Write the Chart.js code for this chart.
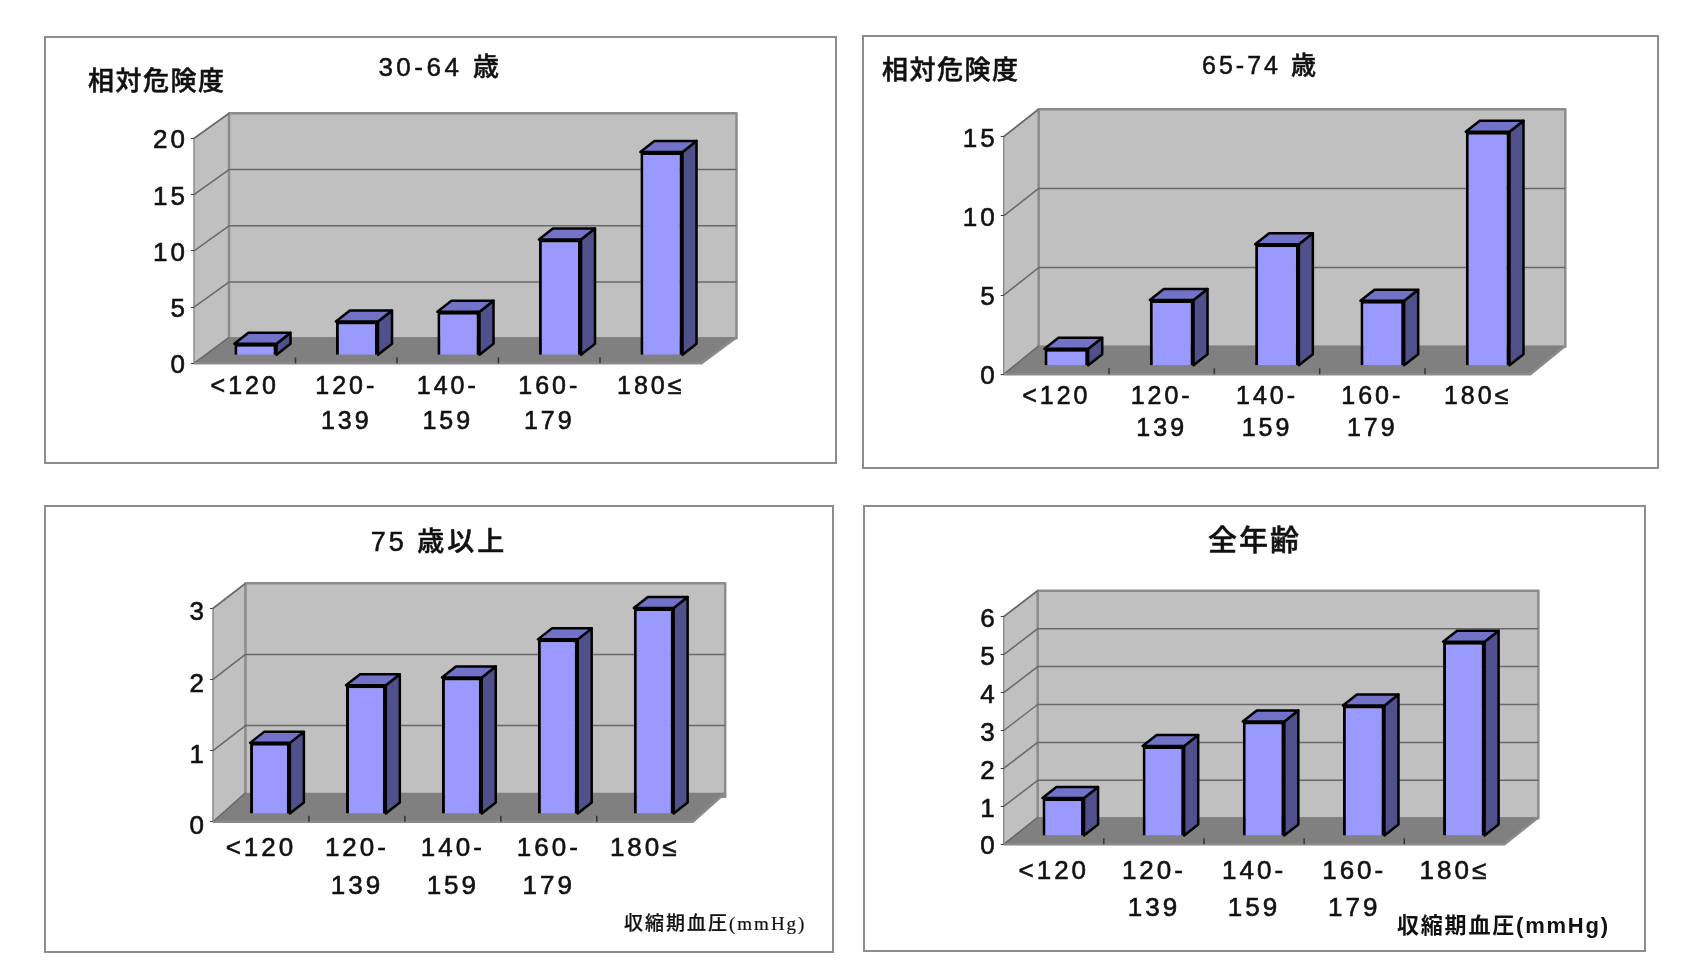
<!DOCTYPE html>
<html>
<head>
<meta charset="utf-8">
<title>収縮期血圧と相対危険度</title>
<script src="https://cdn.jsdelivr.net/npm/chart.js@4"></script>
<style>
html, body { margin: 0; padding: 0; background: #fff; }
body { width: 1700px; height: 974px; position: relative; overflow: hidden; }
.panel { position: absolute; background: #fff; outline: 2px solid #8c8c8c; outline-offset: -1px; filter: blur(0.6px); }
.panel canvas { position: absolute; left: 0; top: 0; }
.label { position: absolute; white-space: nowrap; color: #111; font-family: "Liberation Sans", "Noto Sans CJK JP"; font-weight: 500; line-height: 1; letter-spacing: 2px; -webkit-text-stroke: 0.5px #111; }
</style>
</head>
<body>
<script>
const categories = ['<120', ['120-', '139'], ['140-', '159'], ['160-', '179'], '180≤'];

const risk30to64 = [1.03, 3.0, 3.88, 10.3, 18.08];
const risk65to74 = [1.07, 4.15, 7.67, 4.1, 14.77];
const risk75plus = [1.0, 1.81, 1.92, 2.455, 2.895];
const riskAllAges = [1.0, 2.37, 3.02, 3.44, 5.12];

const yLabel = '相対危険度';
const xLabel = '収縮期血圧(mmHg)';

const panels = [
	{ box: [45, 37, 791, 426], plot: [194, 138.3, 701.5, 363.3], data: risk30to64, max: 20, step: 5, depth: [35, 25], floorRise: 26, shift: [10.7, -8], title: '30-64 歳', titleY: 54, titleSize: 26, titleGap: 3.5, fontSize: 25, lineHeight: 1.39, xPad: 6.3, yShift: 3 },
	{ box: [863, 36, 795, 432], plot: [1003.7, 136.7, 1530.3, 374.3], data: risk65to74, max: 15, step: 5, depth: [35, 27.5], floorRise: 28.5, shift: [10, -8.5], title: '65-74 歳', titleY: 53, titleSize: 25, titleGap: 3, fontSize: 25, lineHeight: 1.3, xPad: 6.1, yShift: 3 },
	{ box: [45, 506, 788, 446], plot: [213, 608.3, 692.7, 821.7], data: risk75plus, max: 3, step: 1, depth: [32.5, 25], floorRise: 29, shift: [9, -7.7], title: '75 歳以上', titleY: 529, titleSize: 27, titleGap: 3, fontSize: 26, lineHeight: 1.46, xPad: 8, yShift: 5 },
	{ box: [864, 506, 781, 445], plot: [1003.7, 616.7, 1504.4, 844.3], data: riskAllAges, max: 6, step: 1, depth: [34, 26], floorRise: 27, shift: [9.5, -8.3], title: '全年齢', titleY: 527, titleSize: 29, titleGap: 2, fontSize: 26, lineHeight: 1.42, xPad: 8.8, yShift: 3 }
];

const frontColor = '#9999ff';
const sideColor = '#50508c';
const topColor = '#7272c8';
const tickFamily = '"Liberation Sans", "Noto Sans CJK JP"';

function poly(ctx, pts, fill, stroke, width) {
	ctx.beginPath();
	pts.forEach((p, i) => (i ? ctx.lineTo(p[0], p[1]) : ctx.moveTo(p[0], p[1])));
	ctx.closePath();
	if (fill) {
		ctx.fillStyle = fill;
		ctx.fill();
	}
	if (stroke) {
		ctx.strokeStyle = stroke;
		ctx.lineWidth = width;
		ctx.lineJoin = 'round';
		ctx.stroke();
	}
}

// walls, floor and the receding grid lines, all hung off the y scale
const walls = {
	id: 'walls',
	beforeDraw(chart, args, opts) {
		const { ctx, chartArea: a, scales } = chart;
		const [dx, dy] = opts.depth;
		const yBase = scales.y.getPixelForValue(0);
		const yTop = scales.y.getPixelForValue(scales.y.max);

		// tick labels are spaced out like the original
		ctx.letterSpacing = '3px';

		ctx.save();
		poly(ctx, [[a.left, yBase], [a.left + dx, yBase - dy], [a.left + dx, yTop - dy], [a.left, yTop]], '#c0c0c0', '#8c8c8c', 1.5);
		poly(ctx, [[a.left + dx, yBase - dy], [a.right + dx, yBase - dy], [a.right + dx, yTop - dy], [a.left + dx, yTop - dy]], '#c0c0c0', '#8c8c8c', 2.5);
		poly(ctx, [[a.left, yBase], [a.right, yBase], [a.right + dx, yBase - opts.floorRise], [a.left + dx, yBase - opts.floorRise]], '#808080', null);

		scales.y.ticks.forEach(t => {
			const y = scales.y.getPixelForValue(t.value);
			ctx.strokeStyle = '#686868';
			ctx.lineWidth = 1.5;
			ctx.beginPath();
			ctx.moveTo(a.left, y);
			ctx.lineTo(a.left + dx, y - (t.value > 0 ? dy : opts.floorRise));
			if (t.value > 0 && t.value < scales.y.max) {
				ctx.lineTo(a.right + dx, y - dy);
			}
			ctx.stroke();
		});

		// edge of the floor
		ctx.strokeStyle = '#8a8a8a';
		ctx.lineWidth = 2.5;
		ctx.beginPath();
		ctx.moveTo(a.left, yBase);
		ctx.lineTo(a.right, yBase);
		ctx.lineTo(a.right + dx, yBase - opts.floorRise);
		ctx.stroke();

		// category ticks stand up from the edge, between the bars
		const x = scales.x;
		ctx.strokeStyle = '#333';
		ctx.lineWidth = 1.5;
		for (let i = 1; i < x.ticks.length; i++) {
			const px = (x.getPixelForTick(i - 1) + x.getPixelForTick(i)) / 2;
			ctx.beginPath();
			ctx.moveTo(px, yBase);
			ctx.lineTo(px, yBase - 6);
			ctx.stroke();
		}

		ctx.restore();
	}
};

// side and top faces of each bar, then shift the library's own bars onto the floor
const bars3d = {
	id: 'bars3d',
	beforeDatasetsDraw(chart, args, opts) {
		const { ctx } = chart;
		const [sx, sy] = opts.shift;
		const [dx, dy] = opts.barDepth;

		ctx.save();
		ctx.translate(sx, sy);
		chart.getDatasetMeta(0).data.forEach(bar => {
			const l = bar.x - bar.width / 2;
			const r = bar.x + bar.width / 2;
			poly(ctx, [[r, bar.y], [r + dx, bar.y - dy], [r + dx, bar.base - dy], [r, bar.base]], sideColor, '#000', 2.5);
			poly(ctx, [[l, bar.y], [l + dx, bar.y - dy], [r + dx, bar.y - dy], [r, bar.y]], topColor, '#000', 2.5);
		});
	},
	afterDatasetsDraw(chart) {
		chart.ctx.restore();
	}
};

panels.forEach(p => {
	const [bx, by, bw, bh] = p.box;
	const [left, top, right, bottom] = p.plot;

	const panel = document.createElement('div');
	panel.className = 'panel';
	panel.style.cssText = `left:${bx}px;top:${by}px;width:${bw}px;height:${bh}px`;
	document.body.appendChild(panel);

	const canvas = document.createElement('canvas');
	canvas.width = bw;
	canvas.height = bh;
	canvas.style.width = bw + 'px';
	canvas.style.height = bh + 'px';
	panel.appendChild(canvas);

	const title = document.createElement('div');
	title.className = 'label';
	title.textContent = p.title;
	title.style.cssText = `left:0;width:${bw}px;text-align:center;top:${p.titleY - by}px;font-size:${p.titleSize}px;letter-spacing:${p.titleGap}px`;
	panel.appendChild(title);

	new Chart(canvas.getContext('2d'), {
		type: 'bar',
		data: {
			labels: categories,
			datasets: [
				{
					label: p.title,
					data: p.data,
					backgroundColor: frontColor,
					borderColor: '#000',
					borderWidth: 3,
					barPercentage: 0.415,
					categoryPercentage: 1,
					clip: false
				}
			]
		},
		options: {
			responsive: false,
			animation: false,
			layout: { padding: { left: 0, top: top - by, right: bx + bw - right, bottom: 0 } },
			plugins: {
				legend: { display: false },
				tooltip: { enabled: false },
				walls: { depth: p.depth, floorRise: p.floorRise },
				bars3d: { shift: p.shift, barDepth: [14, 11] }
			},
			scales: {
				x: {
					afterFit: s => { s.height = by + bh - bottom; },
					border: { display: false },
					grid: { display: false, drawTicks: false },
					ticks: {
						color: '#111',
						textStrokeColor: '#111',
						textStrokeWidth: 0.6,
						font: { family: tickFamily, size: p.fontSize, lineHeight: p.lineHeight },
						padding: p.xPad,
						maxRotation: 0,
						autoSkip: false
					}
				},
				y: {
					min: 0,
					max: p.max,
					afterFit: s => { s.width = left - bx; },
					border: { display: false },
					grid: { drawOnChartArea: false, drawTicks: true, tickLength: 3, color: '#444' },
					ticks: {
						color: '#111',
						textStrokeColor: '#111',
						textStrokeWidth: 0.6,
						font: { family: tickFamily, size: 26 },
						stepSize: p.step,
						padding: 3,
						labelOffset: p.yShift
					}
				}
			}
		},
		plugins: [walls, bars3d]
	});
});

// axis captions that only some panels carry
function caption(text, x, y, size, extra) {
	const el = document.createElement('div');
	el.className = 'label';
	el.textContent = text;
	el.style.cssText = `left:${x}px;top:${y}px;font-size:${size}px;filter:blur(0.5px);${extra || ''}`;
	document.body.appendChild(el);
}

caption(yLabel, 88, 68, 26, 'letter-spacing:1.5px');
caption(yLabel, 882, 57, 26, 'letter-spacing:1.5px');
caption(xLabel, 624, 914, 19, 'letter-spacing:2px;-webkit-text-stroke:0.2px #111;font-family:"Liberation Serif","Noto Sans CJK JP"');
caption(xLabel, 1397, 915, 22, 'letter-spacing:1.8px;-webkit-text-stroke:0;font-weight:700');
</script>
</body>
</html>
